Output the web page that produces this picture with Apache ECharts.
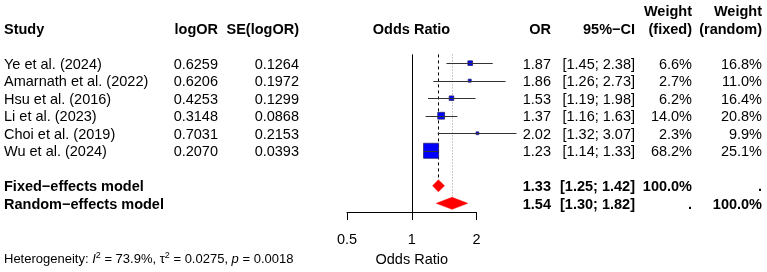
<!DOCTYPE html>
<html>
<head>
<meta charset="utf-8">
<script src="https://cdn.jsdelivr.net/npm/echarts@6/dist/echarts.min.js"></script>
<style>
  html, body { margin: 0; padding: 0; background: #fff; }
  #forest { width: 767px; height: 272px; }
</style>
</head>
<body>
<div id="forest"></div>
<script>
// studies
const studies = ["Ye et al. (2024)", "Amarnath et al. (2022)", "Hsu et al. (2016)", "Li et al. (2023)", "Choi et al. (2019)", "Wu et al. (2024)"];
const logOR = [0.6259, 0.6206, 0.4253, 0.3148, 0.7031, 0.2070];
const seLogOR = [0.1264, 0.1972, 0.1299, 0.0868, 0.2153, 0.0393];
const orVal = [1.87, 1.86, 1.53, 1.37, 2.02, 1.23];
const ciLow = [1.45, 1.26, 1.19, 1.16, 1.32, 1.14];
const ciHigh = [2.38, 2.73, 1.98, 1.63, 3.07, 1.33];
const wFixed = [6.6, 2.7, 6.2, 14.0, 2.3, 68.2];
const wRandom = [16.8, 11.0, 16.4, 20.8, 9.9, 25.1];

// pooled
const models = ["Fixed\u2212effects model", "Random\u2212effects model"];
const modelOR = [1.33, 1.54];
const modelLow = [1.25, 1.30];
const modelHigh = [1.42, 1.82];
const modelWFixed = ["100.0%", "."];
const modelWRandom = [".", "100.0%"];
const modelRows = [7, 8];

const hetI2 = "73.9%";
const hetTau2 = "0.0275";
const hetP = "0.0018";

const FONT = '"Liberation Sans", Arial, Helvetica, sans-serif';
const FS = 14.5;
const TY = 1.5; // text baseline nudge

// text columns (right edge in px)
const colX = { study: 4, logOR: 218, se: 299, or: 551, ci: 635, wf: 692, wr: 762 };

function fmtCI(lo, hi) {
  return "[" + lo.toFixed(2) + "; " + hi.toFixed(2) + "]";
}

function txt(x, y, text, align, bold) {
  return {
    type: "text",
    style: {
      x: x, y: y + TY, text: text,
      textAlign: align, textVerticalAlign: "middle",
      font: (bold ? "bold " : "") + FS + "px " + FONT,
      fill: "#000"
    }
  };
}

let chart = echarts.init(document.getElementById("forest"));

let option = {
  animation: false,
  textStyle: { fontFamily: FONT },
  grid: { left: 347, right: 290.5, top: 54.4, bottom: 57.4 },
  xAxis: {
    type: "log",
    logBase: 2,
    min: 0.5,
    max: 2,
    splitLine: { show: false },
    axisLine: { show: true, onZero: false, lineStyle: { color: "#000", width: 1 } },
    axisTick: { show: true, length: 8, lineStyle: { color: "#000" } },
    minorTick: { show: false },
    axisLabel: {
      fontSize: FS, color: "#000", margin: 20,
      formatter: (v) => String(+v.toFixed(2))
    },
    name: "Odds Ratio",
    nameLocation: "middle",
    nameGap: 38,
    nameTextStyle: { fontSize: FS, color: "#000" }
  },
  yAxis: {
    type: "value",
    inverse: true,
    min: -0.5,
    max: 8.5,
    show: false
  },
  series: [
    {
      // reference lines
      type: "custom",
      clip: false,
      silent: true,
      data: [[1]],
      renderItem: function (params, api) {
        const top = api.coord([1, -0.5]);
        const bot = api.coord([1, 8.5]);
        const xf = api.coord([modelOR[0], 0])[0];
        const xr = api.coord([modelOR[1], 0])[0];
        const yf = api.coord([1, modelRows[0]])[1] - 6;
        const yr = api.coord([1, modelRows[1]])[1] - 6;
        return {
          type: "group",
          children: [
            { type: "line", shape: { x1: Math.round(top[0]) + 0.5, y1: top[1], x2: Math.round(top[0]) + 0.5, y2: bot[1] }, style: { stroke: "#000", lineWidth: 1 } },
            { type: "line", shape: { x1: Math.round(xf) + 0.5, y1: top[1], x2: Math.round(xf) + 0.5, y2: yf }, style: { stroke: "#000", lineWidth: 1, lineDash: [3, 3] } },
            { type: "line", shape: { x1: Math.round(xr) + 0.5, y1: top[1], x2: Math.round(xr) + 0.5, y2: yr }, style: { stroke: "#999", lineWidth: 1, lineDash: [1, 2] } }
          ]
        };
      }
    },
    {
      // study squares + CIs
      type: "custom",
      clip: false,
      data: studies.map((s, i) => [orVal[i], i, ciLow[i], ciHigh[i], wFixed[i]]),
      encode: { x: 0, y: 1 },
      renderItem: function (params, api) {
        const c = api.coord([api.value(0), api.value(1)]);
        const lo = api.coord([api.value(2), api.value(1)]);
        const hi = api.coord([api.value(3), api.value(1)]);
        const side = 1.82 * Math.sqrt(api.value(4));
        const y = Math.round(c[1]) + 0.5;
        return {
          type: "group",
          children: [
            { type: "rect", shape: { x: c[0] - side / 2, y: c[1] - side / 2, width: side, height: side }, style: { fill: "#0000ff", stroke: "#22226e", lineWidth: 0.8 } },
            { type: "line", shape: { x1: lo[0], y1: y, x2: hi[0], y2: y }, style: { stroke: "#333", lineWidth: 1 } }
          ]
        };
      }
    },
    {
      // pooled diamonds
      type: "custom",
      clip: false,
      data: models.map((m, i) => [modelOR[i], modelRows[i], modelLow[i], modelHigh[i]]),
      encode: { x: 0, y: 1 },
      renderItem: function (params, api) {
        const c = api.coord([api.value(0), api.value(1)]);
        const lo = api.coord([api.value(2), api.value(1)]);
        const hi = api.coord([api.value(3), api.value(1)]);
        const h = 6;
        return {
          type: "polygon",
          shape: { points: [[lo[0], c[1]], [c[0], c[1] - h], [hi[0], c[1]], [c[0], c[1] + h]] },
          style: { fill: "#ff0000", stroke: "#ff0000", lineWidth: 0.5 }
        };
      }
    },
    {
      // study table text
      type: "custom",
      clip: false,
      silent: true,
      data: studies.map((s, i) => [1, i]),
      encode: { x: 0, y: 1 },
      renderItem: function (params, api) {
        const i = params.dataIndex;
        const y = api.coord([1, api.value(1)])[1];
        return {
          type: "group",
          children: [
            txt(colX.study, y, studies[i], "left", false),
            txt(colX.logOR, y, logOR[i].toFixed(4), "right", false),
            txt(colX.se, y, seLogOR[i].toFixed(4), "right", false),
            txt(colX.or, y, orVal[i].toFixed(2), "right", false),
            txt(colX.ci, y, fmtCI(ciLow[i], ciHigh[i]), "right", false),
            txt(colX.wf, y, wFixed[i].toFixed(1) + "%", "right", false),
            txt(colX.wr, y, wRandom[i].toFixed(1) + "%", "right", false)
          ]
        };
      }
    },
    {
      // pooled table text
      type: "custom",
      clip: false,
      silent: true,
      data: models.map((m, i) => [1, modelRows[i]]),
      encode: { x: 0, y: 1 },
      renderItem: function (params, api) {
        const i = params.dataIndex;
        const y = api.coord([1, api.value(1)])[1];
        return {
          type: "group",
          children: [
            txt(colX.study, y, models[i], "left", true),
            txt(colX.or, y, modelOR[i].toFixed(2), "right", true),
            txt(colX.ci, y, fmtCI(modelLow[i], modelHigh[i]), "right", true),
            txt(colX.wf, y, modelWFixed[i], "right", true),
            txt(colX.wr, y, modelWRandom[i], "right", true)
          ]
        };
      }
    }
  ],
  graphic: [
    txt(4, 28, "Study", "left", true),
    txt(218, 28, "logOR", "right", true),
    txt(299, 28, "SE(logOR)", "right", true),
    txt(411.5, 28, "Odds Ratio", "center", true),
    txt(551, 28, "OR", "right", true),
    txt(635, 28, "95%\u2212CI", "right", true),
    txt(692, 10, "Weight", "right", true),
    txt(692, 28, "(fixed)", "right", true),
    txt(762, 10, "Weight", "right", true),
    txt(762, 28, "(random)", "right", true),
    {
      type: "text",
      style: {
        x: 4, y: 259,
        text: "Heterogeneity: {i|I}{s|2} = " + hetI2 + ", \u03c4{s|2} = " + hetTau2 + ", {i|p} = " + hetP,
        textVerticalAlign: "middle",
        font: "13px " + FONT,
        fill: "#000",
        rich: {
          i: { fontStyle: "italic", fontSize: 13, fontFamily: FONT },
          s: { fontSize: 9, fontFamily: FONT, verticalAlign: "top", padding: [0, 0, 6, 0] }
        }
      }
    }
  ]
};

chart.setOption(option);
</script>
</body>
</html>
